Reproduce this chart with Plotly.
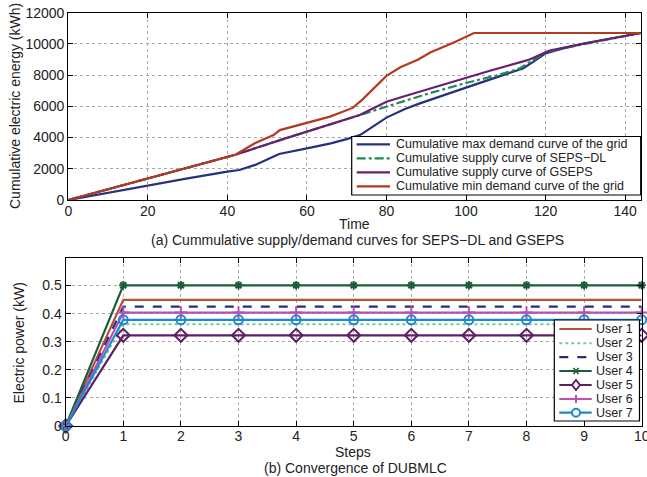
import plotly.graph_objects as go

W, H = 647, 477


def px(x):
    return x / W


def py(y):
    return 1 - y / H


# ---------------- data: top panel (cumulative energy, kWh) ----------------
t_max = [0, 10, 20, 30, 40, 43, 47, 50, 53, 60, 66, 70, 73.3, 74, 80, 84.5, 88.4, 100, 108.5, 114.3, 116.8, 120, 124.4, 130, 144]
e_max = [0, 470, 960, 1390, 1813, 1920, 2250, 2600, 2950, 3310, 3630, 3900, 4160, 4270, 5280, 5820, 6190, 7200, 7940, 8430, 8830, 9390, 9710, 10040, 10700]

t_seps = [0, 20, 40, 42, 54, 60, 65.8, 73.3, 75, 80, 90, 100, 108, 113.5, 116.5, 120, 124, 130, 144]
e_seps = [0, 1390, 2775, 2900, 3900, 4380, 4870, 5450, 5580, 6000, 6780, 7500, 8000, 8430, 8900, 9450, 9700, 9990, 10700]

t_gseps = [0, 20, 40, 42, 54, 60, 65.8, 73.3, 75.8, 80, 84.7, 100, 106, 113.5, 116, 121, 130, 144]
e_gseps = [0, 1390, 2775, 2900, 3900, 4380, 4870, 5450, 5770, 6300, 6660, 7850, 8280, 8820, 9000, 9570, 10040, 10700]

t_min = [0, 20, 40, 42, 46.9, 51.6, 53.2, 60, 65.8, 71.5, 74, 80, 83.5, 88, 91, 96.8, 102, 144]
e_min = [0, 1390, 2775, 2900, 3630, 4160, 4480, 4950, 5340, 5900, 6450, 7950, 8500, 9000, 9450, 10080, 10700, 10700]

top_names = [
    "Cumulative max demand curve of the grid",
    "Cumulative supply curve of SEPS\u2212DL",
    "Cumulative supply curve of GSEPS",
    "Cumulative min demand curve of the grid",
]

# ---------------- data: bottom panel (electric power, kW) ----------------
steps = [0, 1, 2, 3, 4, 5, 6, 7, 8, 9, 10]
user_names = ["User 1", "User 2", "User 3", "User 4", "User 5", "User 6", "User 7"]
user_final = [0.449, 0.362, 0.425, 0.501, 0.323, 0.404, 0.378]
user_start = 0.0

top_x_ticks = [0, 20, 40, 60, 80, 100, 120, 140]
top_y_ticks = [0, 2000, 4000, 6000, 8000, 10000, 12000]
bot_x_ticks = steps
bot_y_ticks = [0, 0.1, 0.2, 0.3, 0.4, 0.5]
bot_y_ticklabels = ["0", "0.1", "0.2", "0.3", "0.4", "0.5"]

# ---------------- styles ----------------
FONT = "Liberation Sans, Arial, sans-serif"
TXT = "#222222"
top_styles = [
    dict(color="#26307c", width=2.2, dash="solid"),
    dict(color="#1f8a57", width=2.2, dash="dashdot"),
    dict(color="#6b1f70", width=2.2, dash="solid"),
    dict(color="#b23a1f", width=2.2, dash="solid"),
]
user_colors = ["#b5503a", "#6fcf95", "#25306e", "#1c5e3c", "#5e1f63", "#b84fb3", "#1e88d0"]
user_dash = ["solid", "dot", "dash", "solid", "solid", "solid", "solid"]
user_symbol = [None, None, None, "asterisk-open", "diamond-open", "cross-thin-open", "circle-open"]
user_msize = [0, 0, 0, 7, 10, 9, 9]

fig = go.Figure()

for (tx, ey), name, st in zip(
    [(t_max, e_max), (t_seps, e_seps), (t_gseps, e_gseps), (t_min, e_min)], top_names, top_styles
):
    fig.add_trace(go.Scatter(x=tx, y=ey, mode="lines", name=name, line=st,
                             xaxis="x", yaxis="y", showlegend=False))

for i, name in enumerate(user_names):
    vals = [user_start] + [user_final[i]] * (len(steps) - 1)
    col = user_colors[i]
    kw = dict(x=steps, y=vals, name=name,
              line=dict(color=col, width=2 if user_dash[i] == "dot" else 2.2, dash=user_dash[i]),
              xaxis="x2", yaxis="y2", showlegend=False, cliponaxis=False)
    if user_symbol[i]:
        kw["mode"] = "lines+markers"
        kw["marker"] = dict(symbol=user_symbol[i], size=user_msize[i], color=col,
                            line=dict(width=2, color=col))
    else:
        kw["mode"] = "lines"
    fig.add_trace(go.Scatter(**kw))

axis_common = dict(
    showline=True, linecolor="black", linewidth=1.2, mirror="allticks",
    ticks="inside", ticklen=5, tickcolor="black",
    showgrid=True, gridcolor="#a8a8a8", griddash="dot", gridwidth=1,
    zeroline=False, tickfont=dict(size=14, color=TXT, family=FONT),
    ticklabeloverflow="allow",
)

fig.update_layout(
    width=W, height=H,
    margin=dict(l=0, r=0, t=0, b=0, autoexpand=False),
    paper_bgcolor="white", plot_bgcolor="white",
    font=dict(family=FONT, color=TXT),
    showlegend=False,
    xaxis=dict(domain=[px(68.3), px(641)], range=[0, 144], tickvals=top_x_ticks, anchor="y",
               ticklabelstandoff=-2, **axis_common),
    yaxis=dict(domain=[py(200), py(12.7)], range=[0, 12000], tickvals=top_y_ticks, tickformat="d", anchor="x", **axis_common),
    xaxis2=dict(domain=[px(65.7), px(641.7)], range=[0, 10], tickvals=bot_x_ticks, anchor="y2",
                ticklabelstandoff=-3, **axis_common),
    yaxis2=dict(domain=[py(426), py(257.5)], range=[0, 0.6], tickvals=bot_y_ticks, ticktext=bot_y_ticklabels, anchor="x2", **axis_common),
)

ann_font = dict(size=14, family=FONT, color=TXT)
annotations = [
    dict(text="Cumulative electric energy (kWh)", x=px(15), y=py(106), textangle=-90),
    dict(text="Time", x=px(354), y=py(224)),
    dict(text="(a) Cummulative supply/demand curves for SEPS\u2212DL and GSEPS", x=px(357), y=py(239.5)),
    dict(text="Electric power (kW)", x=px(18.5), y=py(343), textangle=-90),
    dict(text="Steps", x=px(353), y=py(452)),
    dict(text="(b) Convergence of DUBMLC", x=px(355), y=py(468)),
]
for a in annotations:
    fig.add_annotation(xref="paper", yref="paper", showarrow=False, font=ann_font,
                       xanchor="center", yanchor="middle", borderpad=0, **a)

# ---------------- hand-drawn legends (MATLAB-style compact boxes) ----------------
shapes = []


def add_line(x0, y0, x1, y1, color, width=2.2, dash="solid"):
    shapes.append(dict(type="line", xref="paper", yref="paper",
                       x0=px(x0), y0=py(y0), x1=px(x1), y1=py(y1),
                       line=dict(color=color, width=width, dash=dash)))


def add_box(x0, y0, x1, y1):
    shapes.append(dict(type="rect", xref="paper", yref="paper",
                       x0=px(x0), y0=py(y1), x1=px(x1), y1=py(y0),
                       fillcolor="white", line=dict(color="black", width=1.2), layer="above"))


def legend_text(x, y, text, size):
    fig.add_annotation(xref="paper", yref="paper", showarrow=False, x=px(x), y=py(y),
                       xanchor="left", yanchor="middle", text=text, borderpad=0,
                       font=dict(size=size, family=FONT, color=TXT))


# top legend
add_box(351.7, 136.5, 640.7, 195)
top_rows = [144.3, 158.3, 172.3, 186.3]
for name, st, yy in zip(top_names, top_styles, top_rows):
    add_line(356.7, yy, 390, yy, st["color"], 2.2, st["dash"])
    legend_text(394.5, yy, name, 12.5)

# bottom legend
add_box(554.3, 320, 639.5, 421)
bot_rows = [329, 343.2, 357.2, 371, 385, 399, 412.7]
for i, yy in enumerate(bot_rows):
    col = user_colors[i]
    add_line(559.3, yy, 591.7, yy, col, 2 if user_dash[i] == "dot" else 2.2, user_dash[i])
    cx = 576
    sym = user_symbol[i]
    if sym == "asterisk-open":
        add_line(cx - 3.5, yy, cx + 3.5, yy, col, 2)
        add_line(cx - 2.5, yy - 3, cx + 2.5, yy + 3, col, 1.6)
        add_line(cx - 2.5, yy + 3, cx + 2.5, yy - 3, col, 1.6)
    elif sym == "diamond-open":
        path = "M {0},{1} L {2},{3} L {0},{4} L {5},{3} Z".format(
            px(cx), py(yy - 5), px(cx + 4), py(yy), py(yy + 5), px(cx - 4))
        shapes.append(dict(type="path", xref="paper", yref="paper", path=path,
                           fillcolor="white", line=dict(color=col, width=2)))
    elif sym == "cross-thin-open":
        add_line(cx, yy - 4, cx, yy + 4, col, 2)
    elif sym == "circle-open":
        shapes.append(dict(type="circle", xref="paper", yref="paper",
                           x0=px(cx - 4), x1=px(cx + 4), y0=py(yy + 4), y1=py(yy - 4),
                           fillcolor="white", line=dict(color=col, width=2)))
    legend_text(594.5, yy, user_names[i], 12.5)

fig.update_layout(shapes=shapes)

fig.write_html(
    "out.html",
    config={"displayModeBar": False},
    post_script="document.body.style.margin='0px';document.body.style.padding='0px';document.body.style.overflow='hidden';",
)
